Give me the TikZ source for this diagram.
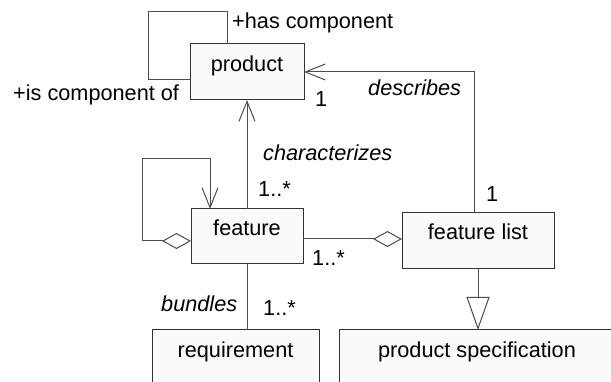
\documentclass[tikz,border=0pt]{standalone}
\usepackage{fontspec}
\setmainfont{Liberation Sans}
\usetikzlibrary{arrows.meta,calc}

\tikzset{
  every picture/.style={font=\fontsize{21.7}{26}\selectfont},
  umlbox/.style={draw=black!80, fill=black!2, line width=1pt, rectangle,
    inner sep=0pt, outer sep=0pt, anchor=north west},
  boxname/.style={anchor=base, inner sep=0pt},
  conn/.style={draw=black!70, line width=1pt},
  lbl/.style={anchor=base west, inner sep=0pt},
  navi/.style={-{Straight Barb[length=20pt,width=16pt]}},
  agg/.tip={Diamond[open,length=29pt,width=16pt]},
  gen/.tip={Triangle[open,length=33pt,width=23pt]}
}

\begin{document}
\begin{tikzpicture}[x=1pt,y=-1pt]
  \useasboundingbox (0,0) rectangle (611,382);
  \clip (0,0) rectangle (611,382);
  \fill[white] (0,0) rectangle (611,382);

  % classes
  \node[umlbox, minimum width=114pt, minimum height=56pt] (product) at (190,44) {};
  \node[boxname] (productname) at ($(product.north)+(0,28)$) {product};

  \node[umlbox, minimum width=112pt, minimum height=55pt] (feature) at (191,209) {};
  \node[boxname] (featurename) at ($(feature.north)+(0,27)$) {feature};

  \node[umlbox, minimum width=152pt, minimum height=56pt] (featurelist) at (402,213) {};
  \node[boxname] (featurelistname) at ($(featurelist.north)+(0,27)$) {feature list};

  \node[umlbox, minimum width=167pt, minimum height=80pt] (requirement) at (152,330) {};
  \node[boxname] (requirementname) at ($(requirement.north)+(0,27)$) {requirement};

  \node[umlbox, minimum width=276pt, minimum height=80pt] (productspec) at (339,330) {};
  \node[boxname] (productspecname) at (477,357) {product specification};

  % product composition loop
  \draw[conn] ([xshift=37pt]product.north west) |- (148,12) |- ([yshift=-36pt]product.north west);

  % characterizes
  \draw[conn, navi] (feature.north) -- (product.south);

  % describes
  \draw[conn, navi] ([xshift=-4pt]featurelist.north) |- (product.east);

  % feature aggregation loop
  \draw[conn, {agg[fill=white]}-{Straight Barb[length=20pt,width=16pt]}]
    ([yshift=-32pt]feature.north west) -| (142,159) -| ([xshift=19pt]feature.north west);

  % feature list aggregates features
  \draw[conn, -{agg[fill=white]}]
    ([yshift=-30pt]feature.north east) -- ([yshift=-30pt]feature.north east -| featurelist.west);

  % bundles
  \draw[conn] (feature.south) -- (feature.south |- requirement.north);

  % generalization
  \draw[conn, -{gen[fill=white]}] (featurelist.south) -- (featurelist.south |- productspec.north);

  % role names, association names and multiplicities
  \node[lbl] (hascomp) at (232,29) {+has component};
  \node[lbl] (iscomp) at (13,101) {+is component of};
  \node[lbl] (m1) at (315,107) {1};
  \node[lbl] (describes) at (368,96) {\itshape describes};
  \node[lbl] (characterizes) at (263,161) {\itshape characterizes};
  \node[lbl] (m2) at (258,197) {1..*};
  \node[lbl] (m3) at (486,202) {1};
  \node[lbl] (m4) at (312,266) {1..*};
  \node[lbl] (bundles) at (161,312) {\itshape bundles};
  \node[lbl] (m5) at (263,316) {1..*};
\end{tikzpicture}
\end{document}
